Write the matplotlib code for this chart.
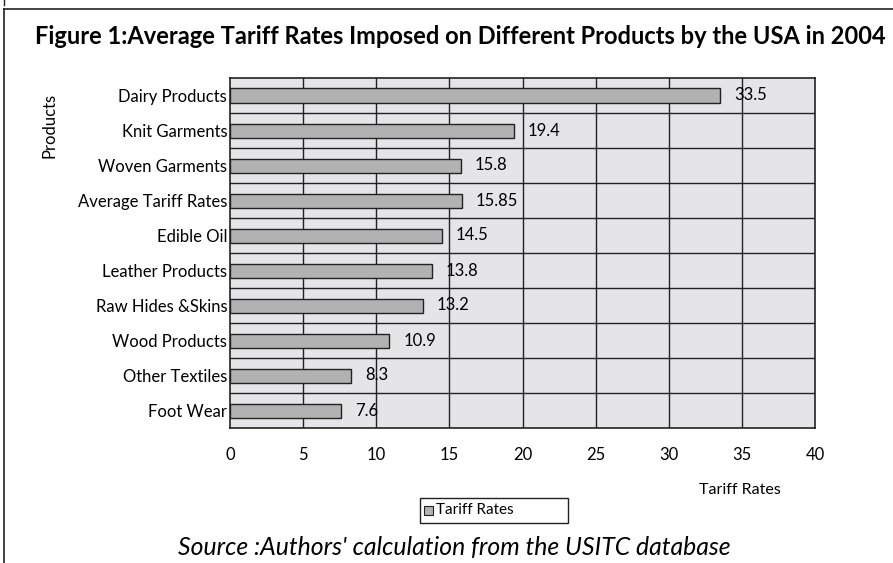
import matplotlib
matplotlib.use("Agg")
import matplotlib.pyplot as plt
from matplotlib.patches import Rectangle
from matplotlib.lines import Line2D

categories = ["Dairy Products", "Knit Garments", "Woven Garments", "Average Tariff Rates",
              "Edible Oil", "Leather Products", "Raw Hides &Skins", "Wood Products",
              "Other Textiles", "Foot Wear"]
values = [33.5, 19.4, 15.8, 15.85, 14.5, 13.8, 13.2, 10.9, 8.3, 7.6]
value_labels = ["33.5", "19.4", "15.8", "15.85", "14.5", "13.8", "13.2", "10.9", "8.3", "7.6"]
xticks = [0, 5, 10, 15, 20, 25, 30, 35, 40]

plt.rcParams['font.family'] = ['Lato', 'DejaVu Sans']

W, H = 893, 563
fig = plt.figure(figsize=(W/100, H/100), dpi=100)
ax = fig.add_axes([230/W, 1-428/H, (815-230)/W, (428-78)/H])

n = len(categories)
ypos = list(range(n))[::-1]
ax.set_facecolor("#e5e5e7")
ax.barh(ypos, values, height=0.4, color="#b2b2b2", edgecolor="#222222", linewidth=1.0, zorder=3)
ax.set_xlim(0, 40)
ax.set_ylim(-0.5, n-0.5)
ax.set_xticks(xticks)
ax.set_xticklabels([str(t) for t in xticks], fontsize=12)
ax.set_yticks(ypos)
ax.set_yticklabels(categories, fontsize=12)
ax.tick_params(axis='both', length=0)
ax.tick_params(axis='x', pad=14)
ax.tick_params(axis='y', pad=2)
for x in xticks[1:-1]:
    ax.axvline(x, color="#222222", lw=1.0, zorder=2)
for b in range(n-1):
    ax.axhline(b+0.5, color="#222222", lw=1.0, zorder=2)
for s in ax.spines.values():
    s.set_color("#222222")
    s.set_linewidth(1.2)
for y, v, lab in zip(ypos, values, value_labels):
    ax.annotate(lab, (v, y), xytext=(10, 0), textcoords="offset points",
                va="center", ha="left", fontsize=12, zorder=4)

fig.text(460/W, 1-37/H, "Figure 1:Average Tariff Rates Imposed on Different Products by the USA in 2004",
         ha="center", va="center", fontsize=17, fontweight="bold")
fig.text(50/W, 1-125/H, "Products", rotation=90, ha="center", va="center", fontsize=12)
fig.text(740/W, 1-490/H, "Tariff Rates", ha="center", va="center", fontsize=11.5)
fig.text(454/W, 1-548/H, "Source :Authors' calculation from the USITC database",
         ha="center", va="center", fontsize=17.8, style="italic")

# legend
lx0, ly0, lw, lh = 420, 498, 148, 25
fig.patches.append(Rectangle((lx0/W, 1-(ly0+lh)/H), lw/W, lh/H, transform=fig.transFigure,
                             facecolor="white", edgecolor="#222222", lw=1.0))
fig.patches.append(Rectangle((424/W, 1-515/H), 9/W, 9/H, transform=fig.transFigure,
                             facecolor="#b2b2b2", edgecolor="#222222", lw=0.8))
fig.text(436/W, 1-510.5/H, "Tariff Rates", ha="left", va="center", fontsize=11)

# frame
fig.add_artist(Line2D([4/W, 4/W], [0, 1-9/H], transform=fig.transFigure, color="#222222", lw=1.2))
fig.add_artist(Line2D([4/W, 1], [1-9/H, 1-9/H], transform=fig.transFigure, color="#222222", lw=1.2))
fig.add_artist(Line2D([4/W, 4/W], [1, 1-5/H], transform=fig.transFigure, color="#222222", lw=1.0))

fig.savefig("out.png", dpi=100)
